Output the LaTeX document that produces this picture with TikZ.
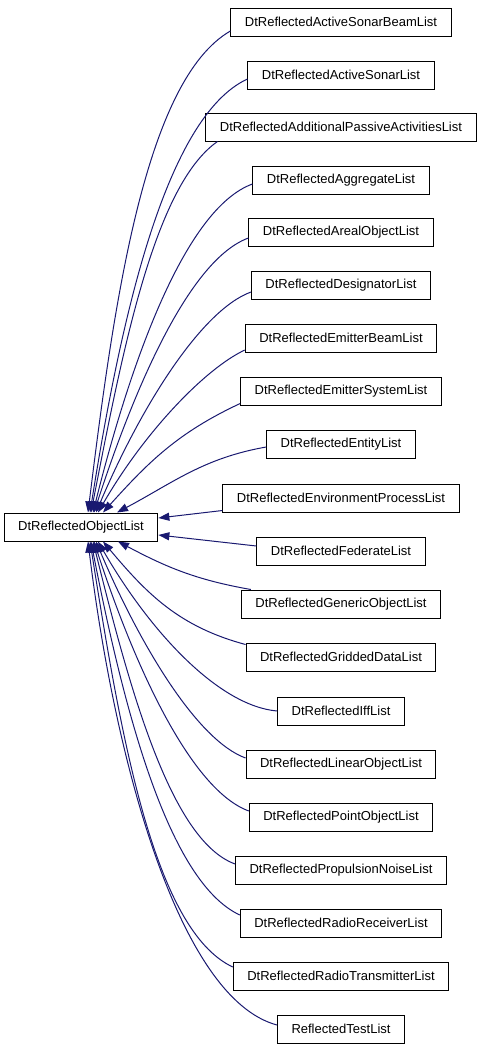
\documentclass[tikz,border=0pt]{standalone}
\usepackage{fontspec}
\setmainfont{Liberation Sans}
\usetikzlibrary{arrows.meta}
\definecolor{edgeblue}{RGB}{25,25,112}
\tikzset{
    classbox/.style={draw=black, line width=1pt, fill=white, minimum height=28pt,
        inner xsep=14pt, inner ysep=0pt, font=\fontsize{13}{15}\selectfont},
    inherit/.style={draw=edgeblue, line width=1pt,
        {Triangle[length=11pt,width=8pt]}-}
}
\begin{document}
\begin{tikzpicture}[x=1pt,y=1pt]
    % Canvas, same size as the reference
    \useasboundingbox (0,0) rectangle (483,-1053);

    % Base class
    \node[classbox] (base) at (81,-527) {DtReflectedObjectList};

    % Derived classes, one per row
    \node[classbox] (c1) at (341,-22) {DtReflectedActiveSonarBeamList};
    \node[classbox] (c2) at (341,-75) {DtReflectedActiveSonarList};
    \node[classbox] (c3) at (341,-127) {DtReflectedAdditionalPassiveActivitiesList};
    \node[classbox] (c4) at (341,-180) {DtReflectedAggregateList};
    \node[classbox] (c5) at (341,-232) {DtReflectedArealObjectList};
    \node[classbox] (c6) at (341,-285) {DtReflectedDesignatorList};
    \node[classbox] (c7) at (341,-338) {DtReflectedEmitterBeamList};
    \node[classbox] (c8) at (341,-391) {DtReflectedEmitterSystemList};
    \node[classbox] (c9) at (341,-444) {DtReflectedEntityList};
    \node[classbox] (c10) at (341,-498) {DtReflectedEnvironmentProcessList};
    \node[classbox] (c11) at (341,-551) {DtReflectedFederateList};
    \node[classbox] (c12) at (341,-604) {DtReflectedGenericObjectList};
    \node[classbox] (c13) at (341,-657) {DtReflectedGriddedDataList};
    \node[classbox] (c14) at (341,-711) {DtReflectedIffList};
    \node[classbox] (c15) at (341,-764) {DtReflectedLinearObjectList};
    \node[classbox] (c16) at (341,-817) {DtReflectedPointObjectList};
    \node[classbox] (c17) at (341,-870) {DtReflectedPropulsionNoiseList};
    \node[classbox] (c18) at (341,-923) {DtReflectedRadioReceiverList};
    \node[classbox] (c19) at (341,-976) {DtReflectedRadioTransmitterList};
    \node[classbox] (c20) at (341,-1029) {ReflectedTestList};

    % Upper edges leave the top of the base box
    \draw[inherit] ([xshift=7pt]base.north) to[out=83,in=210,out looseness=1.1,in looseness=0.5] ([yshift=-9pt]c1.west);
    \draw[inherit] ([xshift=9pt]base.north) to[out=81,in=205,out looseness=1.1,in looseness=0.5] ([yshift=-4pt]c2.west);
    \draw[inherit] ([xshift=10pt]base.north) to[out=79,in=215,out looseness=1.1,in looseness=0.5] ([xshift=12pt]c3.south west);
    \draw[inherit] ([xshift=12pt]base.north) to[out=76,in=200,out looseness=1.1,in looseness=0.5] ([yshift=-4pt]c4.west);
    \draw[inherit] ([xshift=13pt]base.north) to[out=72,in=200,out looseness=1.1,in looseness=0.5] ([yshift=-6pt]c5.west);
    \draw[inherit] ([xshift=15pt]base.north) to[out=67,in=200,out looseness=1.1,in looseness=0.5] ([yshift=-7pt]c6.west);
    \draw[inherit] ([xshift=17pt]base.north) to[out=60,in=205,out looseness=1.1,in looseness=0.5] ([yshift=-12pt]c7.west);
    \draw[inherit] ([xshift=22pt]base.north) to[out=48,in=205] ([yshift=2pt]c8.south west);
    \draw[inherit] ([xshift=36pt]base.north) to[out=28,in=190] ([yshift=-3pt]c9.west);
    % Middle edges leave the right side
    \draw[inherit] ([yshift=9pt]base.east) -- ([yshift=2pt]c10.south west);
    \draw[inherit] ([yshift=-8pt]base.east) -- ([yshift=5pt]c11.west);
    % Lower edges leave the bottom of the base box
    \draw[inherit] ([xshift=37pt]base.south) to[out=-28,in=170] ([xshift=10pt]c12.north west);
    \draw[inherit] ([xshift=22pt]base.south) to[out=-50,in=165] ([yshift=-2pt]c13.north west);
    \draw[inherit] ([xshift=17pt]base.south) to[out=-60,in=175,out looseness=1.1,in looseness=0.6] (c14.west);
    \draw[inherit] ([xshift=15pt]base.south) to[out=-67,in=160,out looseness=1.1,in looseness=0.5] ([yshift=6pt]c15.west);
    \draw[inherit] ([xshift=13pt]base.south) to[out=-72,in=160,out looseness=1.1,in looseness=0.5] ([yshift=6pt]c16.west);
    \draw[inherit] ([xshift=12pt]base.south) to[out=-76,in=160,out looseness=1.1,in looseness=0.5] ([yshift=6pt]c17.west);
    \draw[inherit] ([xshift=10pt]base.south) to[out=-79,in=155,out looseness=1.1,in looseness=0.5] ([yshift=8pt]c18.west);
    \draw[inherit] ([xshift=9pt]base.south) to[out=-81,in=155,out looseness=1.1,in looseness=0.5] ([yshift=9pt]c19.west);
    \draw[inherit] ([xshift=7pt]base.south) to[out=-83,in=165,out looseness=1.1,in looseness=0.5] ([yshift=4pt]c20.west);
\end{tikzpicture}
\end{document}
